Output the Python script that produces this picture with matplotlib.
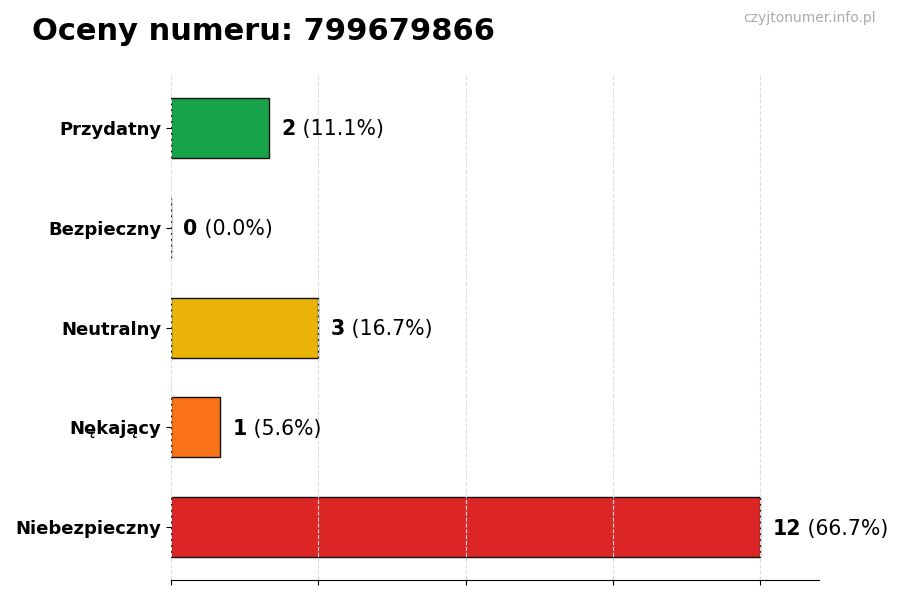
import matplotlib
matplotlib.use("Agg")
from matplotlib import pyplot as plt

categories = ['Przydatny', 'Bezpieczny', 'Neutralny', 'Nękający', 'Niebezpieczny']
counts = [2, 0, 3, 1, 12]
colors = ['#16a34a', '#6b7280', '#eab308', '#f97316', '#dc2626']
title = 'Oceny numeru: 799679866'
watermark = 'czyjtonumer.info.pl'

total = sum(counts)
ypos = list(range(len(categories)))[::-1]

fig = plt.figure(figsize=(9, 6), dpi=100)
ax = fig.add_axes([0.19, 0.033, 0.72, 0.842])

ax.barh(ypos, counts, height=0.6, color=colors, edgecolor='#111111', linewidth=1)

ax.set_yticks(ypos)
ax.set_yticklabels(categories, fontsize=13, fontweight='bold')
ax.set_xticks([0, 3, 6, 9, 12])
ax.set_xticklabels([])
ax.set_xlim(0, max(counts) * 1.1)
ax.grid(axis='x', linestyle='--', color='#dddddd', linewidth=0.8)

for s in ['top', 'right', 'left']:
    ax.spines[s].set_visible(False)

for y, c in zip(ypos, counts):
    t = ax.annotate(f'{c}', xy=(c, y), xytext=(9, -1), textcoords='offset points',
                    va='center', ha='left', fontsize=14.8, fontweight='bold')
    ax.annotate(f' ({c / total * 100:.1f}%)', xy=(1, 0.5), xycoords=t,
                va='center', ha='left', fontsize=14.8)

fig.text(0.035, 0.948, title, fontsize=22, fontweight='bold', va='center', ha='left')
fig.text(0.973, 0.97, watermark, fontsize=10, color='#aaaaaa', va='center', ha='right')

fig.savefig('out.png', dpi=100)
